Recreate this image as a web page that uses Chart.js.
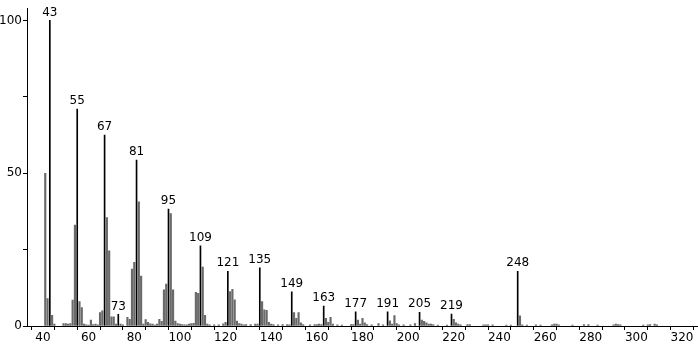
<!DOCTYPE html>
<html lang="en">
<head>
    <meta charset="UTF-8">
    <title>Mass spectrum</title>
    <script src="https://cdn.jsdelivr.net/npm/chart.js@4"></script>
    <style>
        body { margin: 0; background: #fff; }
        canvas { display: block; }
    </style>
</head>
<body>
    <canvas id="espectro" width="698" height="344"></canvas>
    <script>
        // m/z and relative intensity (%)
        const masses = [41, 42, 43, 44, 45, 49, 50, 51, 52, 53, 54, 55, 56, 57, 58, 59, 60, 61, 62, 63, 64, 65, 66, 67, 68, 69, 70, 71, 72, 73, 74, 75, 77, 78, 79, 80, 81, 82, 83, 84, 85, 86, 87, 88, 89, 90, 91, 92, 93, 94, 95, 96, 97, 98, 99, 100, 101, 102, 103, 104, 105, 106, 107, 108, 109, 110, 111, 112, 113, 115, 117, 119, 120, 121, 122, 123, 124, 125, 126, 127, 128, 129, 131, 133, 134, 135, 136, 137, 138, 139, 140, 141, 143, 145, 147, 148, 149, 150, 151, 152, 153, 154, 157, 159, 160, 161, 162, 163, 164, 165, 166, 167, 169, 171, 175, 176, 177, 178, 179, 180, 181, 182, 184, 187, 189, 191, 192, 193, 194, 195, 196, 198, 201, 203, 205, 206, 207, 208, 209, 210, 211, 213, 217, 219, 220, 221, 222, 223, 226, 227, 233, 234, 235, 237, 243, 245, 248, 249, 250, 252, 256, 258, 263, 264, 265, 266, 272, 277, 279, 283, 290, 291, 292, 293, 303, 305, 306, 308, 309];
        const intensities = [50, 9, 100, 3.5, 0.6, 0.8, 0.8, 0.6, 0.8, 8.5, 33, 71, 8, 6, 0.6, 0.4, 0.3, 1.9, 0.5, 0.6, 0.4, 4.4, 5, 62.5, 35.5, 24.6, 3, 3, 0.6, 3.8, 0.6, 0.4, 2.8, 2.2, 18.6, 20.8, 54.3, 40.6, 16.3, 0.6, 2.1, 1.2, 0.7, 0.6, 0.3, 0.6, 2.2, 1.5, 11.8, 13.7, 38.3, 36.8, 11.8, 1.6, 0.8, 0.6, 0.5, 0.4, 0.4, 0.6, 0.8, 0.9, 11, 10.7, 26.2, 19.3, 3.5, 0.6, 0.4, 0.4, 0.4, 0.7, 1.2, 17.9, 11.3, 12, 8.6, 1.6, 0.8, 0.6, 0.4, 0.5, 0.5, 0.6, 0.6, 19, 8, 5.3, 5.1, 1.2, 0.6, 0.5, 0.4, 0.5, 0.5, 0.4, 11.2, 4.4, 2.5, 4.4, 1, 0.5, 0.4, 0.5, 0.5, 0.6, 0.5, 6.5, 2.5, 1.2, 2.8, 0.6, 0.4, 0.3, 0.5, 0.5, 4.6, 1.9, 0.6, 2.5, 1, 0.5, 0.4, 0.8, 0.4, 4.6, 1.7, 0.6, 3.4, 0.8, 0.4, 0.4, 0.4, 0.8, 4.5, 1.9, 1.5, 1, 0.6, 0.6, 0.5, 0.3, 0.3, 3.9, 2.2, 1, 0.6, 0.4, 0.5, 0.5, 0.4, 0.4, 0.4, 0.4, 0.3, 0.3, 17.9, 3.3, 0.4, 0.3, 0.4, 0.3, 0.4, 0.6, 0.6, 0.4, 0.3, 0.5, 0.5, 0.3, 0.4, 0.6, 0.5, 0.4, 0.3, 0.4, 0.5, 0.6, 0.4];
        // peaks that carry a label
        const labeledMasses = [43, 55, 67, 73, 81, 95, 109, 121, 135, 149, 163, 177, 191, 205, 219, 248];
        const xTicks = [40, 50, 60, 70, 80, 90, 100, 110, 120, 130, 140, 150, 160, 170, 180, 190, 200, 210, 220, 230, 240, 250, 260, 270, 280, 290, 300, 310, 320];
        const yTicks = [0, 25, 50, 75, 100];

        const picos = [];
        const resto = [];
        masses.forEach((m, i) => {
            const p = { x: m, y: intensities[i] };
            if (labeledMasses.includes(m)) picos.push(p); else resto.push(p);
        });

        const fuente = '12px "DejaVu Sans"';

        // numbers above the labeled peaks
        const etiquetas = {
            id: 'etiquetas',
            afterDatasetsDraw(chart) {
                const ctx = chart.ctx;
                const meta = chart.getDatasetMeta(0);
                ctx.save();
                ctx.font = fuente;
                ctx.fillStyle = '#000';
                ctx.textAlign = 'center';
                ctx.textBaseline = 'bottom';
                meta.data.forEach((el, i) => {
                    ctx.fillText(String(picos[i].x), el.x, el.y - 2);
                });
                ctx.restore();
            }
        };

        new Chart(document.getElementById('espectro'), {
            type: 'bar',
            data: {
                datasets: [
                    { data: picos, backgroundColor: '#000', barThickness: 1, grouped: false },
                    { data: resto, backgroundColor: '#6a6a6a', barThickness: 1.5, grouped: false }
                ]
            },
            options: {
                responsive: false,
                animation: false,
                layout: { padding: 0 },
                plugins: { legend: { display: false }, tooltip: { enabled: false } },
                scales: {
                    x: {
                        type: 'linear',
                        min: 33,
                        max: 327,
                        offset: false,
                        afterBuildTicks: s => { s.ticks = xTicks.map(v => ({ value: v })); },
                        afterFit: s => { s.height = 18; },
                        ticks: {
                            font: { family: 'DejaVu Sans', size: 12 },
                            color: '#000',
                            padding: 1,
                            maxRotation: 0,
                            autoSkip: false,
                            callback: v => (v % 20 === 0 ? v : '')
                        },
                        grid: { drawOnChartArea: false, drawTicks: true, tickLength: 4, color: '#000' },
                        border: { color: '#000', width: 1 }
                    },
                    y: {
                        min: 0,
                        max: 104,
                        afterBuildTicks: s => { s.ticks = yTicks.map(v => ({ value: v })); },
                        afterFit: s => { s.width = 27; },
                        ticks: {
                            font: { family: 'DejaVu Sans', size: 12 },
                            color: '#000',
                            padding: 1,
                            callback: v => (v % 50 === 0 ? v : '')
                        },
                        grid: { drawOnChartArea: false, drawTicks: true, tickLength: 4, color: '#000' },
                        border: { color: '#000', width: 1 }
                    }
                }
            },
            plugins: [etiquetas]
        });
    </script>
</body>
</html>
